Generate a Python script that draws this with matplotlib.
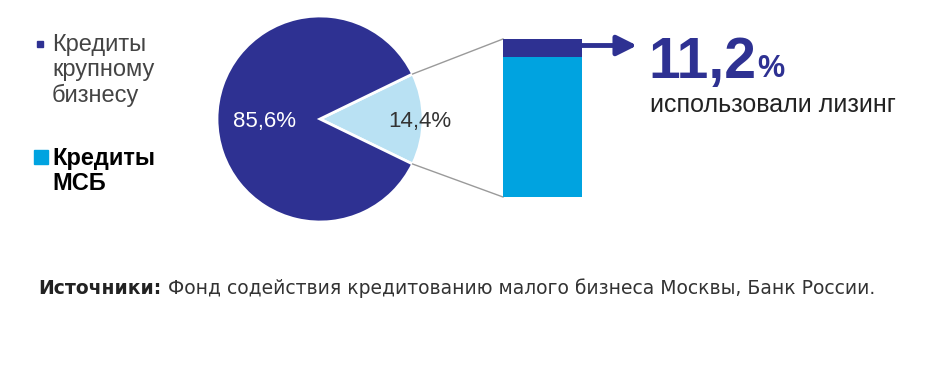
import numpy as np
import matplotlib.pyplot as plt

# data
shares = [14.4, 85.6]            # МСБ, крупный бизнес
share_labels = ["14,4%", "85,6%"]
leasing_share = 11.2
leasing_label = "11,2"
legend_big = ["Кредиты", "крупному", "бизнесу"]
legend_sme = ["Кредиты", "МСБ"]
source_head = "Источники:"
source_body = "Фонд содействия кредитованию малого бизнеса Москвы, Банк России."

navy = "#2e3192"
light = "#b9e1f3"
bar_blue = "#00a3e0"
grey = "#9a9a9a"

plt.rcParams['font.family'] = ['Liberation Sans', 'DejaVu Sans']

fig = plt.figure(figsize=(9.35, 3.71), dpi=100)
ax = fig.add_axes([0, 0, 1, 1])

# pie
cx, cy, r = 320, 119, 103
half = shares[0] * 3.6 / 2
ax.pie(shares, colors=[light, navy], startangle=-half, center=(cx, cy),
       radius=r, wedgeprops=dict(edgecolor='white', linewidth=2), frame=True)
ax.set_xlim(0, 935)
ax.set_ylim(371, 0)
ax.set_aspect('equal')
ax.axis('off')
ax.text(388, 121, share_labels[0], fontsize=16, color='#333333', ha='left', va='center')
ax.text(265, 121, share_labels[1], fontsize=16, color='white', ha='center', va='center')

# bar (separate axes)
bx0, bx1, by0, by1 = 503, 582, 39, 197
bax = fig.add_axes([bx0 / 935, (371 - by1) / 371, (bx1 - bx0) / 935, (by1 - by0) / 371])
bax.bar([0], [100], width=1, color=bar_blue)
bax.bar([0], [leasing_share], bottom=100 - leasing_share, width=1, color=navy)
bax.set_xlim(-0.5, 0.5)
bax.set_ylim(0, 100)
bax.axis('off')

# connector lines
a = np.deg2rad(half)
px, py = cx + r * np.cos(a), r * np.sin(a)
ax.plot([px, bx0], [cy - py, by0], color=grey, lw=1)
ax.plot([px, bx0], [cy + py, by1], color=grey, lw=1)

# arrow
ax.annotate("", xy=(637, 45.5), xytext=(bx1 - 2, 45.5),
            arrowprops=dict(arrowstyle='-|>,head_length=1.2,head_width=0.6',
                            color=navy, lw=3.5, shrinkA=0, shrinkB=0))

ax.text(648, 78, leasing_label, fontsize=41, fontweight='heavy', color=navy,
        ha='left', va='baseline')
ax.text(757, 77, "%", fontsize=22, fontweight='bold', color=navy,
        ha='left', va='baseline')
ax.text(650, 105, "использовали лизинг", fontsize=18, color='#222222',
        ha='left', va='center')

# legend
ax.plot(40, 44, 's', color=navy, ms=5)
for i, t in enumerate(legend_big):
    ax.text(52, 45 + 25 * i, t, fontsize=17, color='#444444', va='center', ha='left')
ax.plot(41, 157, 's', color=bar_blue, ms=10)
for i, t in enumerate(legend_sme):
    ax.text(52, 158 + 26 * i, t, fontsize=17, fontweight='bold', color='black',
            va='center', ha='left')

# source
head = ax.text(38, 288, source_head, fontsize=13.5, fontweight='bold', color='#222222',
               family='DejaVu Sans', va='center', ha='left')
ax.annotate(source_body, xy=(1, 0.5), xycoords=head, xytext=(5, 0),
            textcoords='offset points', fontsize=13.5, color='#333333',
            family='DejaVu Sans', va='center', ha='left')

fig.savefig("out.png", dpi=100)
